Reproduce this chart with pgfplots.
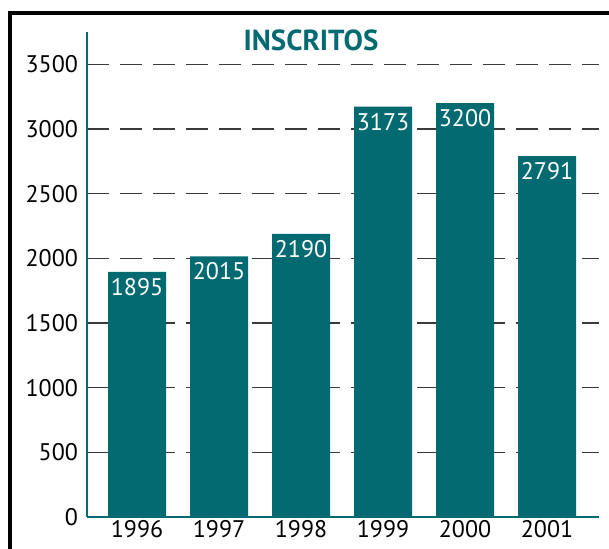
\documentclass[border=0pt]{standalone}
\usepackage{fontspec}
\setmainfont{PT Sans}
\usepackage{pgfplots}
\pgfplotsset{compat=1.18}
\definecolor{teal}{HTML}{036A72}
\definecolor{gridc}{HTML}{3A3A3A}

\begin{document}
\begin{tikzpicture}[x=1pt,y=1pt]
\useasboundingbox (0,0) rectangle (304.5,274.5);
% frame (only the left and top sides show in the picture)
\draw[black,line width=1.6pt] (5,-2) -- (5,268) -- (310,268);
\node[font=\fontsize{14.5}{16}\selectfont\bfseries,text=teal] at (155.5,254.5) {INSCRITOS};
\begin{axis}[
  at={(43.5pt,16pt)},anchor=south west,
  scale only axis,width=256pt,height=242.5pt,
  xmin=-0.61,xmax=5.634,ymin=0,ymax=3751,
  xtick={0,...,5},xticklabels={1996,1997,1998,1999,2000,2001},
  ytick={0,500,...,3500},
  axis x line*=bottom,axis y line*=left,
  axis line style={teal,line width=1.1pt,-},
  major tick length=0pt,
  ymajorgrids,
  grid style={gridc,line width=0.7pt,dash pattern=on 11pt off 5.5pt},
  tick label style={font=\fontsize{12}{14}\selectfont,text=black},
  yticklabel style={xshift=-1pt},
  xticklabel style={yshift=2pt},
  /pgf/number format/set thousands separator={},
  /pgf/number format/assume math mode=true,
  clip=false,
]
\addplot[ybar,bar width=29pt,fill=teal,draw=none] coordinates {(0,1895) (1,2015) (2,2190) (3,3173) (4,3200) (5,2791)};
\foreach \i/\v in {0/1895,1/2015,2/2190,3/3173,4/3200,5/2791}{
  \edef\tmp{\noexpand\node[anchor=north,text=white,font=\noexpand\fontsize{12}{14}\noexpand\selectfont,inner sep=1pt] at (axis cs:\i,\v) [yshift=-2pt] {\v};}
  \tmp
}
\end{axis}
\end{tikzpicture}
\end{document}
